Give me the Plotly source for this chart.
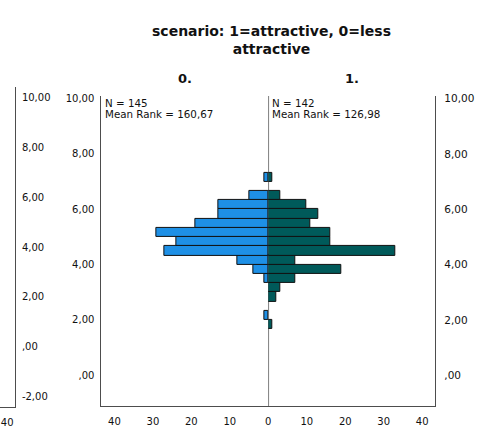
import plotly.graph_objects as go

W, H = 479, 428

# Histogram bins (bin centres on the test-variable scale)
bin_centers = [1.833, 2.167, 2.5, 2.833, 3.167, 3.5, 3.833, 4.167, 4.5,
               4.833, 5.167, 5.5, 5.833, 6.167, 6.5, 6.833, 7.167]
bin_width = 0.3333
# group 0 (less attractive) frequencies
counts_0 = [0, 1, 0, 0, 0, 1, 4, 8, 27, 24, 29, 19, 13, 13, 5, 0, 1]
# group 1 (attractive) frequencies
counts_1 = [1, 0, 0, 2, 3, 7, 19, 7, 33, 16, 16, 11, 13, 10, 3, 0, 1]

group_labels = ["0.", "1."]
n_text = ["N = 145", "N = 142"]
rank_text = ["Mean Rank = 160,67", "Mean Rank = 126,98"]
title_text = "scenario: 1=attractive, 0=less<br>attractive"

y_tickvals = [0, 2, 4, 6, 8, 10]
y_ticktext = [",00", "2,00", "4,00", "6,00", "8,00", "10,00"]
x_left_tickvals = [40, 30, 20, 10, 0]
x_right_tickvals = [10, 20, 30, 40]
# neighbouring (cropped) chart axis on the far left
side_tickvals = [-2, 0, 2, 4, 6, 8, 10]
side_ticktext = ["-2,00", ",00", "2,00", "4,00", "6,00", "8,00", "10,00"]
side_xtickvals = [40]

BLUE = "#1E90E6"
TEAL = "#005A5A"
LINE = "#4d4d4d"
FONT = "DejaVu Sans"

def px_x(p):
    return p / W

def px_y(p):
    return 1 - p / H

def nz(counts):
    xs, ys = [], []
    for c, b in zip(counts, bin_centers):
        if c > 0:
            xs.append(c)
            ys.append(b)
    return xs, ys

fig = go.Figure()
x0, y0 = nz(counts_0)
x1, y1 = nz(counts_1)
fig.add_trace(go.Bar(x=x0, y=y0, orientation="h", width=bin_width,
                     marker=dict(color=BLUE, line=dict(color="#111", width=1)),
                     xaxis="x", yaxis="y", showlegend=False))
fig.add_trace(go.Bar(x=x1, y=y1, orientation="h", width=bin_width,
                     marker=dict(color=TEAL, line=dict(color="#111", width=1)),
                     xaxis="x2", yaxis="y2", showlegend=False))
# invisible trace for cropped neighbouring axis
fig.add_trace(go.Scatter(x=[], y=[], xaxis="x3", yaxis="y3", showlegend=False))

xrng = 43.4
yrng = [-1.12, 10.1]
ydom = [px_y(407), px_y(93)]
tickfont = dict(family=FONT, size=10, color="#111")

common_x = dict(showgrid=False, zeroline=False, showline=True, linecolor=LINE,
                linewidth=1, ticks="", tickfont=tickfont, fixedrange=True,
                ticklabelstandoff=6)
side_lo = 40 - 7.2 / 3.875
fig.update_layout(
    width=W, height=H, margin=dict(l=0, r=0, t=0, b=0),
    paper_bgcolor="white", plot_bgcolor="white", bargap=0,
    xaxis=dict(domain=[px_x(102), px_x(270)], range=[xrng, 0], anchor="y",
               tickvals=x_left_tickvals, **common_x),
    xaxis2=dict(domain=[px_x(270), px_x(438)], range=[0, xrng], anchor="y2",
                tickvals=x_right_tickvals, **common_x),
    yaxis=dict(domain=ydom, range=yrng, anchor="x", side="left",
               showgrid=False, zeroline=False, showline=True, linecolor=LINE,
               ticks="", tickvals=y_tickvals, ticktext=y_ticktext,
               tickfont=tickfont, ticklabelstandoff=4),
    yaxis2=dict(domain=ydom, range=yrng, anchor="x2", side="right",
                showgrid=False, zeroline=False, showline=True, linecolor=LINE,
                ticks="", tickvals=y_tickvals, ticktext=y_ticktext,
                tickfont=dict(family=FONT, size=10.5, color="#111"),
                ticklabelstandoff=6, ticklabeloverflow="allow"),
    xaxis3=dict(domain=[0, px_x(15)], range=[side_lo, side_lo + 15 / 3.875],
                anchor="y3", tickvals=side_xtickvals, **common_x),
    yaxis3=dict(domain=[px_y(408), px_y(84)], range=[-2.44, 10.44], anchor="x3",
                side="right", showgrid=False, zeroline=False, showline=True,
                linecolor=LINE, ticks="", tickvals=side_tickvals,
                ticktext=side_ticktext, tickfont=tickfont, ticklabelstandoff=4),
    shapes=[dict(type="line", xref="x2", yref="y2 domain", x0=0, x1=0, y0=0, y1=1,
                 line=dict(color="#555", width=1.5), layer="below")],
)

ann = [
    dict(text=title_text, x=px_x(273), y=px_y(36), xref="paper", yref="paper",
         showarrow=False, xanchor="center", yanchor="middle",
         font=dict(family=FONT, size=14, color="#111", weight="bold")),
    dict(text=group_labels[0], x=px_x(186), y=px_y(75), xref="paper", yref="paper",
         showarrow=False, xanchor="center", yanchor="middle",
         font=dict(family=FONT, size=13, color="#111", weight="bold")),
    dict(text=group_labels[1], x=px_x(354), y=px_y(75), xref="paper", yref="paper",
         showarrow=False, xanchor="center", yanchor="middle",
         font=dict(family=FONT, size=13, color="#111", weight="bold")),
]
for i, xl in enumerate([104, 272]):
    ann.append(dict(text=n_text[i], x=px_x(xl), y=px_y(100), xref="paper", yref="paper",
                    showarrow=False, xanchor="left", yanchor="middle",
                    font=dict(family=FONT, size=10.3, color="#111")))
    ann.append(dict(text=rank_text[i], x=px_x(xl), y=px_y(111), xref="paper", yref="paper",
                    showarrow=False, xanchor="left", yanchor="middle",
                    font=dict(family=FONT, size=10.3, color="#111")))
fig.update_layout(annotations=ann)

fig.write_html("out.html")
